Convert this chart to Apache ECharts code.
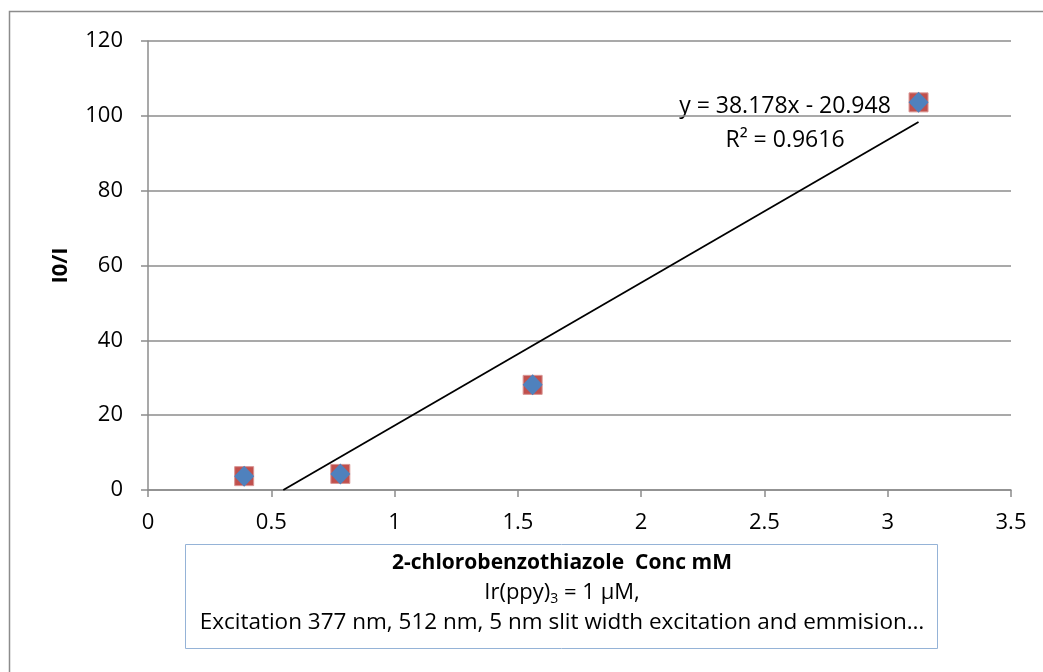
<!DOCTYPE html>
<html><head><meta charset="utf-8">
<script src="https://cdn.jsdelivr.net/npm/echarts@6/dist/echarts.min.js"></script>
<style>html,body{margin:0;padding:0;background:#fff}#c{width:1043px;height:672px}</style>
</head><body><div id="c"></div>
<script>
const concX = [0.39, 0.78, 1.56, 3.125];
const ratioY = [3.7, 4.3, 28.1, 103.6];
const slope = 38.178, intercept = -20.948;
const xTicks = [0, 3.5, 0.5];
const yTicks = [0, 120, 20];
const eqText = 'y = 38.178x - 20.948';
const r2Text = 'R² = 0.9616';
const xTitle = '2-chlorobenzothiazole  Conc mM';
const yTitle = 'I0/I';

const pts = concX.map((x, i) => [x, ratioY[i]]);
const xStart = -intercept / slope, xEnd = concX[concX.length - 1];
const trend = [[xStart, slope * xStart + intercept], [xEnd, slope * xEnd + intercept]];
const FONT = 'Open Sans';
const chart = echarts.init(document.getElementById('c'));
chart.setOption({
  animation: false,
  textStyle: { fontFamily: FONT },
  grid: { left: 148, right: 32, top: 41, bottom: 182 },
  xAxis: {
    type: 'value', min: xTicks[0], max: xTicks[1], interval: xTicks[2],
    axisLine: { show: true, lineStyle: { color: '#8c8c8c', width: 1.5 } },
    axisTick: { show: true, inside: false, length: 7, lineStyle: { color: '#8c8c8c', width: 1.5 } },
    splitLine: { show: false },
    axisLabel: { color: '#000', fontSize: 22, margin: 22, fontFamily: FONT }
  },
  yAxis: {
    type: 'value', min: yTicks[0], max: yTicks[1], interval: yTicks[2],
    axisLine: { show: true, lineStyle: { color: '#8c8c8c', width: 1.5 } },
    axisTick: { show: true, inside: false, length: 7, lineStyle: { color: '#8c8c8c', width: 1.5 } },
    splitLine: { show: true, lineStyle: { color: '#8c8c8c', width: 1.5 } },
    axisLabel: { color: '#000', fontSize: 22, margin: 25, fontFamily: FONT },
    name: yTitle, nameLocation: 'middle', nameGap: 76, nameRotate: 90,
    nameTextStyle: { color: '#000', fontSize: 22, fontWeight: 'bold', fontFamily: FONT }
  },
  series: [
    { type: 'line', data: trend, symbol: 'none', lineStyle: { color: '#000', width: 1.8 }, z: 1 },
    { type: 'scatter', data: pts, symbol: 'rect', symbolSize: 19, itemStyle: { color: '#C0504D', opacity: 1, borderColor: '#d99694', borderWidth: 1 }, z: 2 },
    { type: 'scatter', data: pts, symbol: 'diamond', symbolSize: [20, 21], itemStyle: { color: '#4F81BD', opacity: 1 }, z: 3 }
  ],
  graphic: [
    { type: 'rect', shape: { x: 9.5, y: 11.5, width: 1100, height: 800 }, style: { fill: 'none', stroke: '#8c8c8c', lineWidth: 1.5 }, silent: true },
    { type: 'rect', shape: { x: 185.5, y: 544.5, width: 752, height: 104 }, style: { fill: '#fff', stroke: '#95B3D7', lineWidth: 1 } },
    { type: 'text', x: 562, y: 563, style: { text: xTitle, font: 'bold 21px "Open Sans"', fill: '#000', textAlign: 'center', textVerticalAlign: 'middle' } },
    { type: 'text', x: 562, y: 593, style: { text: 'Ir(ppy){s|3} = 1 µM,', font: '22px "Open Sans"', fill: '#000', textAlign: 'center', textVerticalAlign: 'middle',
      rich: { s: { fontSize: 14, fontFamily: FONT, fill: '#000', padding: [12, 0, 0, 0] } } } },
    { type: 'text', x: 562, y: 623, style: { text: 'Excitation 377 nm, 512 nm, 5 nm slit width excitation and emmision…', font: '22.5px "Open Sans"', fill: '#000', textAlign: 'center', textVerticalAlign: 'middle' } },
    { type: 'text', x: 785, y: 106, style: { text: eqText, font: '23px "Open Sans"', fill: '#000', textAlign: 'center', textVerticalAlign: 'middle' } },
    { type: 'text', x: 785, y: 140, style: { text: r2Text, font: '23px "Open Sans"', fill: '#000', textAlign: 'center', textVerticalAlign: 'middle' } }
  ]
});
</script></body></html>
